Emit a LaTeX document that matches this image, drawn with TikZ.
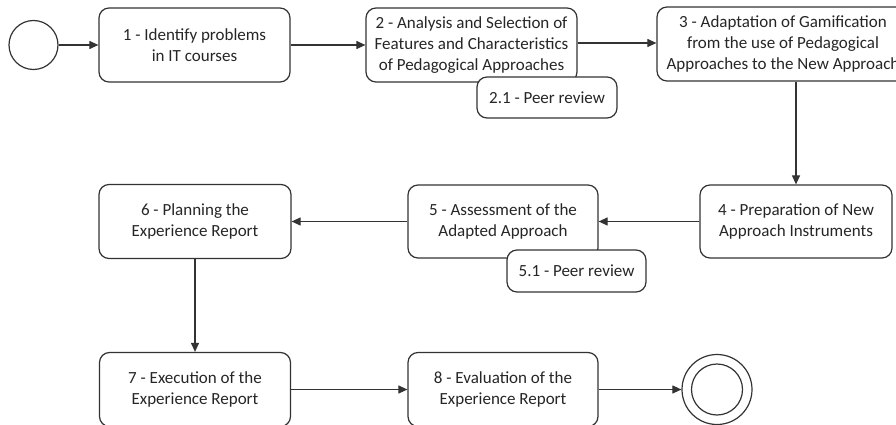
\documentclass[tikz,border=0pt]{standalone}
\usepackage{fontspec}
\setmainfont{Carlito}
\usetikzlibrary{arrows.meta}
\begin{document}
\begin{tikzpicture}[x=1pt,y=-1pt,
  stepbox/.style={draw=black!80, line width=1.2pt, rounded corners=10pt, fill=white,
    align=center, font=\fontsize{17}{21}\selectfont, text=black!85, inner sep=0pt},
  conn/.style={draw=black!80, line width=1.1pt, -{Triangle[length=9pt,width=8pt]}}]
\useasboundingbox (0,0) rectangle (896,425);
\node[circle, draw=black!80, line width=1.2pt, minimum size=49pt, inner sep=0pt] (start) at (33.5,45) {};
\node[stepbox, minimum width=191pt, minimum height=74pt] (b1) at (194.5,45) {1 - Identify problems\\in IT courses};
\node[stepbox, minimum width=211pt, minimum height=74pt] (b2) at (471.5,45) {2 - Analysis and Selection of\\Features and Characteristics\\of Pedagogical Approaches};
\node[stepbox, minimum width=140pt, minimum height=41pt] (b21) at (547,97.5) {2.1 - Peer review};
\node[stepbox, minimum width=252pt, minimum height=74pt] (b3) at (783,44) {3 - Adaptation of Gamification\\from the use of Pedagogical\\Approaches to the New Approach};
\node[stepbox, minimum width=192pt, minimum height=73pt] (b4) at (796,221.5) {4 - Preparation of New\\Approach Instruments};
\node[stepbox, minimum width=190pt, minimum height=73pt] (b5) at (503,221.5) {5 - Assessment of the\\Adapted Approach};
\node[stepbox, minimum width=139pt, minimum height=42pt] (b51) at (576.5,271) {5.1 - Peer review};
\node[stepbox, minimum width=192pt, minimum height=74pt] (b6) at (195,221.5) {6 - Planning the\\Experience Report};
\node[stepbox, minimum width=191pt, minimum height=74pt] (b7) at (195,389.5) {7 - Execution of the\\Experience Report};
\node[stepbox, minimum width=190pt, minimum height=74pt] (b8) at (503,389.5) {8 - Evaluation of the\\Experience Report};
\node[circle, draw=black!80, line width=1.2pt, minimum size=70pt, inner sep=0pt] (end) at (717,389.5) {};
\node[circle, draw=black!80, line width=1.2pt, minimum size=51pt, inner sep=0pt] (endin) at (717,389.5) {};
\draw[conn] (start) -- (b1);
\draw[conn] (b1) -- (b2);
\draw[conn] (b2.east |- 0,43) -- (b3.west |- 0,43);
\draw[conn] (b4.north |- b3.south) -- (b4.north);
\draw[conn] (b4) -- (b5);
\draw[conn] (b5) -- (b6);
\draw[conn] (b6) -- (b7);
\draw[conn] (b7) -- (b8);
\draw[conn] (b8) -- (end);
\end{tikzpicture}
\end{document}
